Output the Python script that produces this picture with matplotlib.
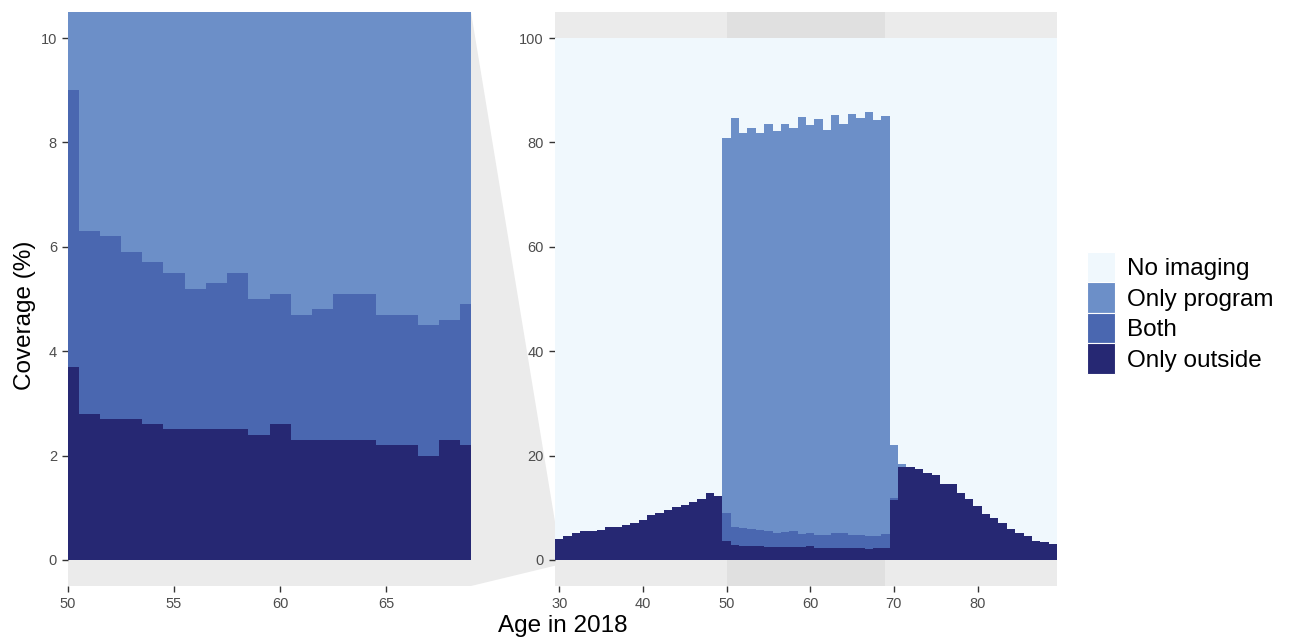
import numpy as np
import matplotlib
matplotlib.use("Agg")
import matplotlib.pyplot as plt
from matplotlib.patches import Patch, Polygon

plt.rcParams['font.family'] = ['Liberation Sans', 'DejaVu Sans']

# data: coverage (%) by age in 2018
ages = list(range(30, 90))
only_outside = [4.1, 4.6, 5.1, 5.6, 5.6, 5.7, 6.3, 6.3, 6.7, 7.0,
                7.7, 8.6, 9.0, 9.6, 10.2, 10.6, 11.1, 11.7, 12.8, 12.3,
                3.7, 2.8, 2.7, 2.7, 2.6, 2.5, 2.5, 2.5, 2.5, 2.4,
                2.6, 2.3, 2.3, 2.3, 2.3, 2.2, 2.2, 2.0, 2.3, 2.2,
                11.4, 17.8, 17.8, 17.4, 16.6, 16.3, 14.6, 14.6, 12.8, 11.6,
                10.4, 8.8, 8.1, 7.1, 6.0, 5.2, 4.6, 3.7, 3.4, 3.0]
both = [0] * 20 + [5.3, 3.5, 3.5, 3.2, 3.1, 3.0, 2.7, 2.8, 3.0, 2.6,
                   2.5, 2.4, 2.5, 2.8, 2.8, 2.5, 2.5, 2.5, 2.3, 2.7] + [0.4, 0.1] + [0] * 18
only_program = [0] * 20 + [71.9, 78.4, 75.7, 76.9, 76.2, 78.1, 77.0, 78.3, 77.2, 79.9,
                           78.3, 79.8, 77.6, 80.1, 78.4, 80.7, 80.0, 81.3, 79.7, 80.2] + [10.2, 0.4] + [0] * 18
no_imaging = list(100 - np.array(only_outside) - np.array(both) - np.array(only_program))

labels = ["No imaging", "Only program", "Both", "Only outside"]
colors = {"No imaging": "#F0F8FD", "Only program": "#6C8FC8",
          "Both": "#4A67B0", "Only outside": "#262873"}
zoom_range = (50, 69)

W, H = 1289, 639
fig = plt.figure(figsize=(W / 100, H / 100), dpi=100)


def fx(px):
    return px / W


def fy(py):
    return 1 - py / H


def stack(ax):
    bottom = np.zeros(len(ages))
    for name, vals in [("Only outside", only_outside), ("Both", both),
                       ("Only program", only_program), ("No imaging", no_imaging)]:
        ax.bar(ages, vals, width=1.0, bottom=bottom, color=colors[name],
               linewidth=0, zorder=2)
        bottom += np.array(vals)


def style(ax):
    for s in ax.spines.values():
        s.set_visible(False)
    ax.tick_params(length=4, width=1, color="#333333", labelcolor="#4D4D4D",
                   labelsize=10.5, pad=4)


# connection shape between zoom panel and main panel
poly = Polygon([(fx(471), fy(12)), (fx(558), fy(540)), (fx(558), fy(565)), (fx(471), fy(586))],
               closed=True, transform=fig.transFigure, facecolor="#EBEBEB",
               edgecolor="none", zorder=-1)
fig.patches.append(poly)

# left: zoomed panel
ax1 = fig.add_axes([fx(68), fy(586), fx(471) - fx(68), fy(12) - fy(586)])
ax1.set_facecolor("#EBEBEB")
stack(ax1)
ax1.set_xlim(*zoom_range)
ax1.set_ylim(-0.5, 10.5)
ax1.set_xticks([50, 55, 60, 65])
ax1.set_yticks([0, 2, 4, 6, 8, 10])
style(ax1)

# right: full range
ax2 = fig.add_axes([fx(555), fy(586), fx(1057) - fx(555), fy(12) - fy(586)])
ax2.set_facecolor("#EBEBEB")
ax2.axvspan(zoom_range[0], zoom_range[1], color="#E0E0E0", linewidth=0, zorder=0)
stack(ax2)
ax2.set_xlim(29.5, 89.5)
ax2.set_ylim(-5, 105)
ax2.set_xticks([30, 40, 50, 60, 70, 80])
ax2.set_yticks([0, 20, 40, 60, 80, 100])
style(ax2)

fig.text(fx(25), fy(315), "Coverage (%)", rotation=90, ha="center", va="center",
         fontsize=17.5, color="black")
fig.text(fx(563), fy(626), "Age in 2018", ha="center", va="center",
         fontsize=17.5, color="black")

handles = [Patch(facecolor=colors[n], edgecolor="white", linewidth=0.8) for n in labels]
fig.legend(handles, labels, loc="upper left", bbox_to_anchor=(fx(1087), fy(252)),
           frameon=False, fontsize=17.5, handlelength=1.15, handleheight=1.55,
           handletextpad=0.5, labelspacing=0.0, borderpad=0, borderaxespad=0)

fig.savefig("out.png", dpi=100)
